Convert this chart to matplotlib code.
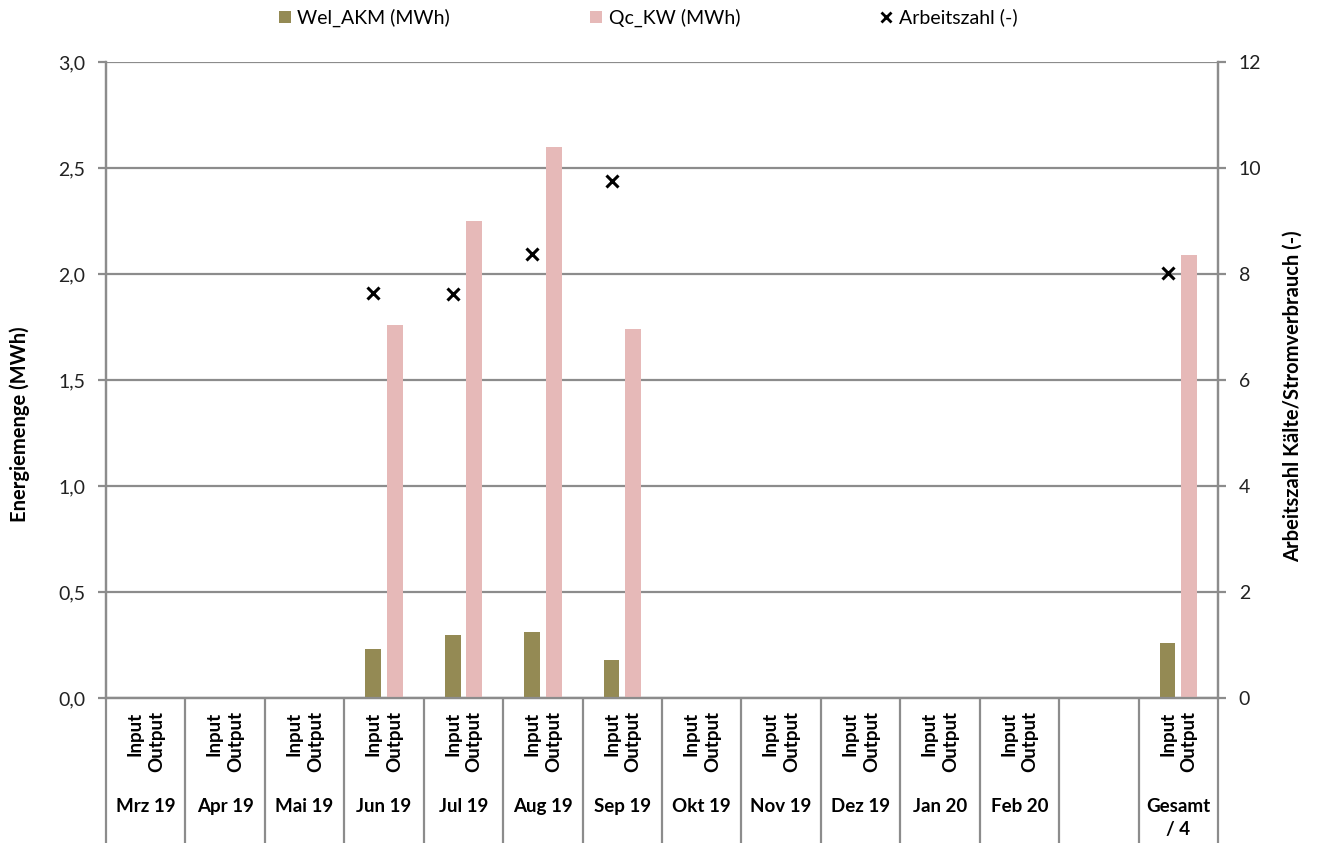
import matplotlib
matplotlib.use("Agg")
import matplotlib.pyplot as plt
from matplotlib.lines import Line2D
from matplotlib.patches import Patch
from matplotlib.ticker import FuncFormatter, MultipleLocator
import numpy as np

plt.rcParams["font.family"] = ["Lato", "DejaVu Sans"]

# ── Daten ───────────────────────────────────────────────────────────────────
months = ["Mrz 19", "Apr 19", "Mai 19", "Jun 19", "Jul 19", "Aug 19", "Sep 19",
          "Okt 19", "Nov 19", "Dez 19", "Jan 20", "Feb 20", "", "Gesamt\n/ 4"]
nan = np.nan
wel_akm = [nan, nan, nan, 0.23, 0.295, 0.31, 0.178, nan, nan, nan, nan, nan, nan, 0.26]
qc_kw = [nan, nan, nan, 1.76, 2.25, 2.60, 1.74, nan, nan, nan, nan, nan, nan, 2.09]
arbeitszahl = [nan, nan, nan, 7.65, 7.63, 8.37, 9.75, nan, nan, nan, nan, nan, nan, 8.02]
sub_labels = ["Input", "Output"]

C_WEL = "#948a54"
C_QC = "#e6b9b8"
C_GRID = "#8c8c8c"

fig = plt.figure(figsize=(13.2, 8.43), dpi=100)
ax = fig.add_axes([0.0803, 0.172, 0.8424, 0.7545])
ax2 = ax.twinx()

x = np.arange(len(months))
w = 0.2
off = 0.135

ax.bar(x - off, wel_akm, width=w, color=C_WEL, zorder=3)
ax.bar(x + off, qc_kw, width=w, color=C_QC, zorder=3)
ax2.plot(x - off, arbeitszahl, linestyle="none", marker="x", color="black",
         markersize=9, markeredgewidth=2.2, zorder=5)

ax.set_xlim(-0.5, len(months) - 0.5)
ax.set_ylim(0, 3.0)
ax2.set_ylim(0, 12)
ax.yaxis.set_major_locator(MultipleLocator(0.5))
ax2.yaxis.set_major_locator(MultipleLocator(2))
ax.yaxis.set_major_formatter(FuncFormatter(lambda v, _: f"{v:.1f}".replace(".", ",")))

ax.grid(axis="y", color=C_GRID, linewidth=1.6, zorder=0)
ax.set_axisbelow(True)

for a in (ax, ax2):
    a.spines["top"].set_visible(False)
    for s in ("left", "right", "bottom"):
        a.spines[s].set_color(C_GRID)
        a.spines[s].set_linewidth(1.6)
for a in (ax, ax2):
    a.tick_params(axis="y", direction="out", length=6, width=1.6, color=C_GRID,
                  labelsize=14, labelcolor="#222222", pad=9)
ax.tick_params(axis="x", length=0, labelbottom=False)

# Kategorie-Trennlinien unterhalb der Achse
xt = ax.get_xaxis_transform()
ax.vlines(np.arange(len(months) + 1) - 0.5, -0.23, 0, transform=xt,
          color=C_GRID, linewidth=1.6, clip_on=False)

for i, m in enumerate(months):
    if m:
        for dx, lbl in zip((-off, off), sub_labels):
            ax.text(i + dx, -0.021, lbl, transform=xt, rotation=90,
                    ha="center", va="top", fontsize=13.5, fontweight="bold")
    ax.text(i, -0.157, m, transform=xt, ha="center", va="top",
            fontsize=13.5, fontweight="bold", linespacing=1.45)

ax.set_ylabel("Energiemenge (MWh)", fontsize=14.5, fontweight="bold")
ax.yaxis.set_label_coords(-0.068, 0.43)
ax2.set_ylabel("Arbeitszahl Kälte/Stromverbrauch (-)", fontsize=14.5,
               fontweight="bold")
ax2.yaxis.set_label_coords(1.058, 0.475)

handles = [
    Patch(facecolor=C_WEL, label="Wel_AKM (MWh)"),
    Patch(facecolor=C_QC, label="Qc_KW (MWh)"),
    Line2D([], [], linestyle="none", marker="x", color="black",
           markersize=7, markeredgewidth=2, label="Arbeitszahl (-)"),
]
fig.legend(handles=handles, loc="center", bbox_to_anchor=(0.491, 0.979), ncol=3,
           frameon=False, fontsize=14, handlelength=0.6, handleheight=0.6,
           handletextpad=0.35, columnspacing=7.2)

fig.savefig("out.png", dpi=100)
